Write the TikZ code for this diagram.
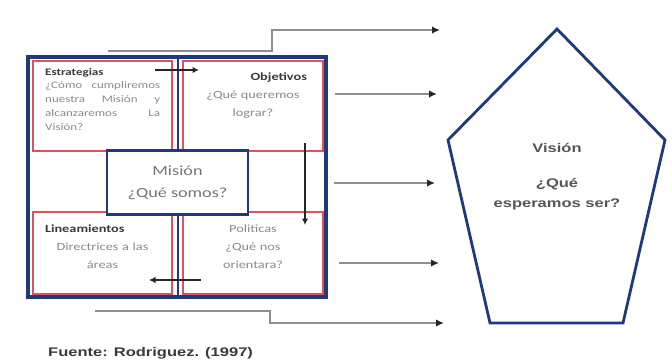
\documentclass[tikz,border=0pt]{standalone}
\usepackage{fontspec}
\usetikzlibrary{arrows.meta}
\newfontfamily\calf[FakeStretch=1.3]{Carlito}
\newfontfamily\arif[FakeStretch=1.32]{Liberation Sans}
\definecolor{navy}{HTML}{1F3A7A}
\definecolor{redl}{HTML}{E0505E}
\definecolor{txtg}{HTML}{8A8A8A}
\definecolor{hdg}{HTML}{3A3A3A}
\definecolor{visg}{HTML}{555555}
\definecolor{conn}{HTML}{8E8E8E}
\tikzset{
  redbox/.style={draw=redl, line width=1.8pt},
  bluebox/.style={draw=navy, line width=3.4pt},
  qtext/.style={inner sep=0pt, font=\calf\fontsize{11}{18}\selectfont, text=txtg},
  grayarrow/.style={draw=conn, line width=2.2pt, -{Latex[length=8pt,width=7.5pt,color=black!85]}},
  innerarrow/.style={draw=black!85, line width=2.2pt, -{Latex[length=6.5pt,width=6.5pt]}},
}
\begin{document}
\begin{tikzpicture}[x=1pt,y=-1pt]
\useasboundingbox (0,0) rectangle (672,364);
\fill[white] (0,0) rectangle (672,364);

% red quadrant frames
\draw[redbox] (33,61) rectangle (172,151);
\draw[redbox] (183,61) rectangle (323,151);
\draw[redbox] (33,212) rectangle (172,294);
\draw[redbox] (183,212) rectangle (323,294);
\draw[redbox] (172,151) -- (172,212);
\draw[redbox] (183,151) -- (183,212);
% blue outer frame and central line
\draw[bluebox] (28,57) rectangle (326,297);
\draw[draw=navy, line width=2pt] (177.5,57) -- (177.5,297);

% mission box
\node[draw=navy, line width=2.4pt, fill=white, minimum width=141pt, minimum height=64pt,
      inner sep=0pt, align=center, text=txtg!85!black,
      font=\calf\fontsize{14}{22}\selectfont] (mision) at (177.5,182.5)
      {Misión\\¿Qué somos?};

% quadrant texts
\node[qtext, anchor=north west, text width=115pt, align=justify,
      font=\calf\fontsize{10}{13.7}\selectfont] (estr) at (45,68)
  {\textcolor{hdg}{\bfseries Estrategias}\\
   ¿Cómo cumpliremos\linebreak nuestra Misión y\linebreak alcanzaremos La\linebreak Visión?};
\node[qtext, anchor=north, text width=108pt, align=center] (obj) at (253,72.5)
  {\hfill\textcolor{hdg}{\bfseries Objetivos}\\ ¿Qué queremos\\ lograr?};
\node[qtext, anchor=north, text width=115pt, align=center] (lin) at (102.5,225)
  {\textcolor{hdg}{\bfseries Lineamientos}\hfill\mbox{}\\ Directrices a las\\ áreas};
\node[qtext, anchor=north, text width=108pt, align=center] (pol) at (253,225)
  {Politicas\\ ¿Qué nos\\ orientara?};

% inner arrows
\coordinate (a1s) at (155,70);  \coordinate (a1e) at (199,70);
\coordinate (a2s) at (305,143); \coordinate (a2e) at (305,225);
\coordinate (a3s) at (201,280); \coordinate (a3e) at (149,280);
\draw[innerarrow] (a1s) -- (a1e);
\draw[innerarrow] (a2s) -- (a2e);
\draw[innerarrow] (a3s) -- (a3e);

% vision pentagon
\draw[draw=navy, line width=2.8pt, line join=miter]
  (557,29) -- (665,140) -- (623,323) -- (490,323) -- (448,140) -- cycle;
\node[inner sep=0pt, align=center, text=visg,
      font=\arif\bfseries\fontsize{12.5}{20}\selectfont] (vision) at (557,177)
  {Visión\\[15pt]¿Qué\\esperamos ser?};

% connectors to the vision
\coordinate (g1s) at (108,51); \coordinate (g1k) at (272,40); \coordinate (g1e) at (440,30);
\coordinate (g2s) at (335,94); \coordinate (g2e) at (437,94);
\coordinate (g3s) at (334,183); \coordinate (g3e) at (435,183);
\coordinate (g4s) at (339,263); \coordinate (g4e) at (439,263);
\coordinate (g5s) at (95,311); \coordinate (g5k) at (270,316); \coordinate (g5e) at (444,323);
\draw[grayarrow] (g1s) -| (g1k) |- (g1e);
\draw[grayarrow] (g2s) -- (g2e);
\draw[grayarrow] (g3s) -- (g3e);
\draw[grayarrow] (g4s) -- (g4e);
\draw[grayarrow] (g5s) -| (g5k) |- (g5e);

% source
\node[anchor=west, inner sep=0pt, text=hdg,
      font=\arif\bfseries\fontsize{12.5}{15}\selectfont] (fuente) at (48,353)
  {Fuente: Rodriguez. (1997)};
\end{tikzpicture}
\end{document}
